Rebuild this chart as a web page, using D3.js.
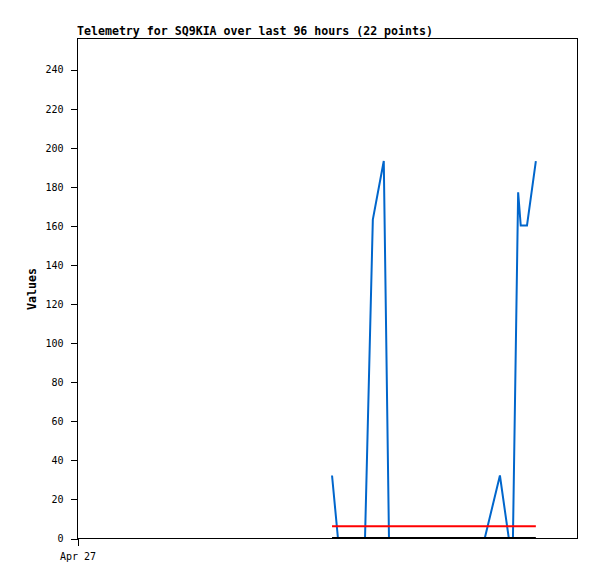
<!DOCTYPE html>
<html>
<head>
<meta charset="utf-8">
<script src="https://cdn.jsdelivr.net/npm/d3@7"></script>
<style>
  body { margin: 0; background: #fff; }
  text { font-family: "DejaVu Sans Mono", monospace; fill: #000; }
  .title, .ylabel { font-size: 11.6px; font-weight: bold; }
  .tick text { font-size: 10px; }
</style>
</head>
<body>
<div id="chart"></div>
<script>
// telemetry samples (22 points)
var times = [
  "2023-04-29T00:58", "2023-04-29T02:06", "2023-04-29T03:24", "2023-04-29T04:42",
  "2023-04-29T06:00", "2023-04-29T07:18", "2023-04-29T08:48", "2023-04-29T10:54",
  "2023-04-29T11:54", "2023-04-29T15:30", "2023-04-29T19:00", "2023-04-29T22:36",
  "2023-04-30T01:00", "2023-04-30T03:48", "2023-04-30T06:18", "2023-04-30T09:12",
  "2023-04-30T10:54", "2023-04-30T11:42", "2023-04-30T12:42", "2023-04-30T13:12",
  "2023-04-30T14:24", "2023-04-30T16:06"
];
var values = [32, 0, 0, 0, 0, 0, 163, 193, 0, 0, 0, 0, 0, 0, 0, 32, 0, 0, 177, 160, 160, 193];
var redValues = times.map(function() { return 6; });
var blackValues = times.map(function() { return 0; });
var yTicks = [0, 20, 40, 60, 80, 100, 120, 140, 160, 180, 200, 220, 240];
var xTicks = ["2023-04-27T00:00"];

var parseTime = d3.timeParse("%Y-%m-%dT%H:%M");
var formatTick = d3.timeFormat("%b %d");

var width = 597, height = 579;
var margin = {left: 77, top: 38, right: 20, bottom: 41};

var svg = d3.select("#chart").append("svg")
  .attr("width", width)
  .attr("height", height);

var x = d3.scaleTime()
  .domain([parseTime("2023-04-27T00:00"), parseTime("2023-05-01T00:00")])
  .range([margin.left, width - margin.right]);

var y = d3.scaleLinear()
  .domain([0, 256])
  .range([height - margin.bottom, margin.top]);

// frame
svg.append("rect")
  .attr("x", margin.left + 0.5)
  .attr("y", margin.top + 0.5)
  .attr("width", width - margin.left - margin.right)
  .attr("height", height - margin.top - margin.bottom)
  .attr("fill", "none")
  .attr("stroke", "#000")
  .attr("shape-rendering", "crispEdges");

var yAxis = svg.append("g")
  .attr("transform", "translate(" + (margin.left + 0.5) + ",0.5)")
  .call(d3.axisLeft(y).tickValues(yTicks).tickSize(7).tickPadding(7));
yAxis.select(".domain").remove();
yAxis.selectAll("line").attr("shape-rendering", "crispEdges");

var xAxis = svg.append("g")
  .attr("transform", "translate(0.5," + (height - margin.bottom + 0.5) + ")")
  .call(d3.axisBottom(x).tickValues(xTicks.map(parseTime)).tickSize(7).tickPadding(7)
    .tickFormat(formatTick));
xAxis.select(".domain").remove();
xAxis.selectAll("line").attr("shape-rendering", "crispEdges");

svg.append("text")
  .attr("class", "title")
  .attr("x", margin.left)
  .attr("y", 35)
  .text("Telemetry for SQ9KIA over last 96 hours (22 points)");

svg.append("text")
  .attr("class", "ylabel")
  .attr("transform", "translate(36,289) rotate(-90)")
  .attr("text-anchor", "middle")
  .text("Values");

function drawSeries(vals, color) {
  var line = d3.line()
    .x(function(d, i) { return x(parseTime(times[i])); })
    .y(function(d) { return y(d); });
  svg.append("path")
    .datum(vals)
    .attr("d", line)
    .attr("fill", "none")
    .attr("stroke", color)
    .attr("stroke-width", 2);
}

// blue first, red and black drawn over it
drawSeries(values, "#0066cc");
drawSeries(redValues, "#ff0000");
drawSeries(blackValues, "#000");
</script>
</body>
</html>
